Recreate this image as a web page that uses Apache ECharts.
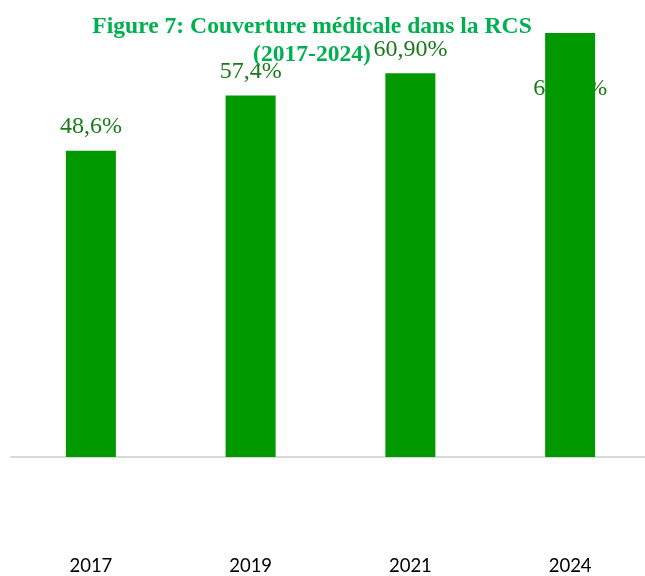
<!DOCTYPE html>
<html>
<head>
<meta charset="utf-8">
<script src="https://cdn.jsdelivr.net/npm/echarts@6/dist/echarts.min.js"></script>
<style>
html,body{margin:0;padding:0;background:#fff;overflow:hidden;}
#c{width:652px;height:576px;}
</style>
</head>
<body>
<div id="c"></div>
<script>
var categories = ['2017', '2019', '2021', '2024'];
var values = [48.6, 57.4, 60.9, 67.3];
var labelTexts = ['48,6%', '57,4%', '60,90%', '67,30%'];

var chart = echarts.init(document.getElementById('c'));
var labelData = values.map(function (v, i) {
  var d = { value: v };
  if (i === 3) {
    d.label = { position: 'insideTop', distance: 44 };
  }
  return d;
});
chart.setOption({
  animation: false,
  backgroundColor: '#ffffff',
  title: {
    text: 'Figure 7: Couverture médicale dans la RCS\n(2017-2024)',
    left: 307,
    top: 8,
    textAlign: 'center',
    textStyle: {
      fontFamily: 'Liberation Serif',
      fontWeight: 'bold',
      fontSize: 23.6,
      lineHeight: 28,
      color: '#00B050'
    }
  },
  grid: { left: 11, width: 639, top: 16, bottom: 118 },
  xAxis: {
    type: 'category',
    data: categories,
    axisLine: { show: true, lineStyle: { color: '#d9d9d9', width: 2 } },
    axisTick: { show: false },
    axisLabel: {
      margin: 100,
      fontFamily: 'Lato, sans-serif',
      fontSize: 18.5,
      color: '#000000'
    }
  },
  yAxis: {
    type: 'value',
    min: 0,
    max: 70,
    show: false,
    splitLine: { show: false }
  },
  series: [
    {
      type: 'bar',
      z: 1,
      data: labelData,
      barWidth: 50,
      itemStyle: { color: 'rgba(0,0,0,0)' },
      label: {
        show: true,
        position: 'top',
        distance: 12,
        fontFamily: 'Liberation Serif',
        fontSize: 24,
        color: '#1a7a1a',
        formatter: function (p) { return labelTexts[p.dataIndex]; }
      },
      silent: true
    },
    {
      type: 'bar',
      z: 3,
      data: values,
      barWidth: 50,
      barGap: '-100%',
      itemStyle: { color: '#009900' },
      label: { show: false }
    }
  ]
});
</script>
</body>
</html>
